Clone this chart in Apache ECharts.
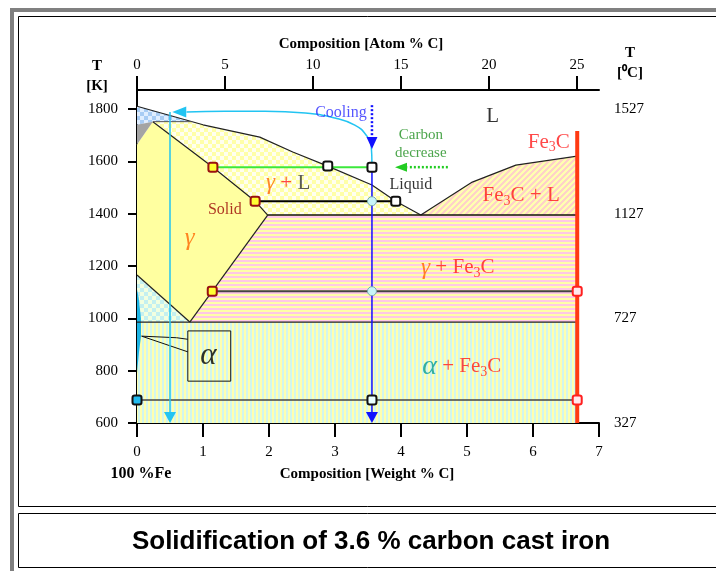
<!DOCTYPE html>
<html><head><meta charset="utf-8">
<script src="https://cdn.jsdelivr.net/npm/echarts@6/dist/echarts.min.js"></script>
<style>html,body{margin:0;padding:0;background:#fff}#c{width:716px;height:571px}</style>
</head><body><div id="c"></div>
<script>
// ---------- axes ----------
const wtRange = [0, 7];
const atomRange = [0, 26.25];
const kelvinRange = [600, 1873];
const celsiusRange = [327, 1600];
const wtTicks = [0, 1, 2, 3, 4, 5, 6, 7];
const atomTicks = [0, 5, 10, 15, 20, 25];
const kelvinTicks = [600, 800, 1000, 1200, 1400, 1600, 1800];
const celsiusTicks = [327, 527, 727, 927, 1127, 1327, 1527];
const celsiusLabels = [327, 727, 1127, 1527];

// ---------- phase boundaries (wt% C, K) ----------
const liquidus = [[0,1811],[1.0,1740],[1.86,1693],[2.36,1636],[2.89,1582],[3.56,1510],[3.92,1448],[4.3,1395]];
const solidus = [[0.24,1752],[1.15,1578],[1.79,1448],[1.98,1395]];
const fe3cLiquidus = [[4.3,1395],[5.08,1521],[5.74,1586],[6.67,1620]];
const a3Line = [[0,1166],[0.8,986]];
const acmLine = [[1.98,1395],[0.8,986]];
const peritectic = [[0.24,1752],[0.83,1752]];
const eutectic = [[1.98,1395],[6.67,1395]];
const eutectoid = [[0,986],[6.67,986]];
const cementite = [[6.67,1716],[6.67,600]];

// ---------- regions ----------
const regionDeltaL = [[0,1811],[0.83,1752],[0.24,1752],[0,1740]];
const regionDeltaGamma = [[0,1740],[0.24,1752],[0,1665]];
const regionGamma = [[0,1665],[0.24,1752],[1.15,1578],[1.79,1448],[1.98,1395],[0.8,986],[0,1166]];
const regionGammaL = [[0.24,1752],[0.83,1752]].concat(liquidus.slice(1)).concat(solidus.slice().reverse());
const regionFe3cL = fe3cLiquidus.concat([[6.67,1395]]);
const regionGammaFe3c = [[1.98,1395],[6.67,1395],[6.67,986],[0.8,986]];
const regionAlphaGamma = [[0,1166],[0.8,986],[0,986]];
const regionAlphaFe3c = [[0,986],[6.67,986],[6.67,600],[0,600]];
const regionAlpha = [[0,1110],[0.025,1080],[0.06,1000],[0.06,930],[0.03,870],[0,790]];

// ---------- solidification path ----------
const greenTie = [[1.15,1578],[3.56,1578]];
const blackTie = [[1.79,1448],[3.92,1448]];
const tie1104 = [[1.14,1104],[6.67,1104]];
const tie688 = [[0,688],[6.67,688]];
const alloyPath = [[3.56,1578],[3.56,612]];
const coolingDots = [[3.56,1815],[3.56,1680]];
const carbonArrow = [[4.71,1578],[4.1,1578]];
const cyanCurve = [[3.56,1590],[3.55,1655],[3.47,1701],[3.30,1739],[3.0,1766],[2.55,1785],[1.94,1792],[1.33,1792],[0.75,1789]];
const cyanDrop = [[0.5,1789],[0.5,612]];
const alphaBox = [[0.77,952],[1.42,952],[1.42,760],[0.77,760],[0.77,952]];
const leaderA = [[0.07,932],[0.6,926],[0.6,920],[0.77,920]];
const leaderB = [[0.07,932],[0.77,872]];

// ---------- marked points ----------
const solidPts = [[1.15,1578],[1.79,1448],[1.14,1104]];
const liquidPts = [[2.89,1582],[3.56,1578],[3.92,1448]];
const bottomPt = [[3.56,688]];
const alloyPts = [[3.56,1448],[3.56,1104]];
const fe3cPts = [[6.67,1104],[6.67,688]];
const ferritePt = [[0,688]];
const blueHead = [[3.56,621]];
const cyanHead = [[0.5,621]];
const coolingHead = [[3.56,1670]];
const cyanLeftHead = [[0.64,1789]];
const greenHead = [[4.0,1578]];

const SERIF = "'Liberation Serif','Times New Roman',serif";

function makePattern(w, h, fn) {
  const c = document.createElement('canvas'); c.width = w; c.height = h;
  const ctx = c.getContext('2d');
  for (let y = 0; y < h; y++) for (let x = 0; x < w; x++) {
    ctx.fillStyle = fn(x, y); ctx.fillRect(x, y, 1, 1);
  }
  return { image: c, repeat: 'repeat' };
}
const checker = (a, b) => makePattern(8, 8, (x, y) => ((Math.floor(x/4) + Math.floor(y/4)) % 2 ? a : b));
const patYellowChk = checker('#ffffa8', '#fffff0');
const patBlueChk = checker('#a8ccf4', '#e0eeff');
const patCyanChk = checker('#c4f0f0', '#f2ffe0');
const patHStripes = makePattern(4, 4, (x, y) => (y < 2 ? '#ffc8e6' : '#ffffa8'));
const patVStripes = makePattern(4, 4, (x, y) => (x < 2 ? '#ffffb0' : '#d2f6ee'));
const patDiag = makePattern(6, 6, (x, y) => ((x + y) % 6 < 3 ? '#ffd2c8' : '#ffffb0'));

function region(pts, fill, z) {
  return {
    type: 'custom', coordinateSystem: 'cartesian2d', data: pts, silent: true, z: z || 1,
    renderItem: function (params, api) {
      if (params.dataIndex !== 0) return null;
      return { type: 'polygon', shape: { points: pts.map(p => api.coord(p)) },
        style: { fill: fill, stroke: null } };
    }
  };
}
function line(pts, color, width, type, smooth, z) {
  return { type: 'line', data: pts, symbol: 'none', silent: true, smooth: !!smooth, z: z || 3,
    lineStyle: { color: color, width: width, type: type || 'solid' } };
}
function pts(data, symbol, size, fill, border, bw, rotate, z) {
  return { type: 'scatter', data: data, symbol: symbol, symbolSize: size, symbolRotate: rotate || 0,
    silent: true, z: z || 6, itemStyle: { color: fill, borderColor: border, borderWidth: bw, opacity: 1 } };
}
function txt(x, y, formatter, rich) {
  return { value: [x, y], label: { formatter: formatter, rich: rich } };
}
const base = (color, size, italic) => ({ color: color, fontSize: size, fontFamily: SERIF, fontStyle: italic ? 'italic' : 'normal', lineHeight: size + 4 });
const sub = (color) => ({ color: color, fontSize: 14, fontFamily: SERIF, padding: [11, 0, 0, 0] });
const RED = '#ff1a1a', ORANGE = '#ff6600', TEAL = '#009b9b';

const labels = [
  txt(5.39, 1773, '{k|L}', { k: base('#000', 21) }),
  txt(6.24, 1674, '{r|Fe}{s|3}{r|C}', { r: base(RED, 21), s: sub(RED) }),
  txt(4.30, 1668, '{g|Carbon}\n{g|decrease}', { g: { color: '#1f8f1f', fontSize: 15, fontFamily: SERIF, lineHeight: 18 } }),
  txt(3.09, 1785, '{b|Cooling}', { b: base('#2b2bff', 16) }),
  txt(4.15, 1510, '{k|Liquid}', { k: base('#000', 16) }),
  txt(2.29, 1517, '{o|γ}{r| + }{k|L}', { o: base(ORANGE, 23, true), r: base(RED, 21), k: base('#333', 21) }),
  txt(5.82, 1468, '{r|Fe}{s|3}{r|C + L}', { r: base(RED, 21), s: sub(RED) }),
  txt(1.33, 1414, '{d|Solid}', { d: base('#990000', 16) }),
  txt(0.80, 1307, '{o|γ}', { o: base(ORANGE, 25, true) }),
  txt(4.86, 1193, '{o|γ}{r| + Fe}{s|3}{r|C}', { o: base(ORANGE, 23, true), r: base(RED, 21), s: sub(RED) }),
  txt(4.92, 815, '{t|α}{r| + Fe}{s|3}{r|C}', { t: base(TEAL, 28, true), r: base(RED, 21), s: sub(RED) }),
  txt(1.08, 856, '{k|α}', { k: base('#000', 31, true) })
];

const axisFont = { fontFamily: SERIF, fontSize: 15, color: '#000', formatter: v => String(v) };
const axLine = { show: true, lineStyle: { color: '#000', width: 2 } };
const tstyle = (t, x, y, font) => ({ type: 'text', x: x, y: y, silent: true,
  style: { text: t, font: font, fill: '#000', textAlign: 'center', textVerticalAlign: 'middle', align: 'center', verticalAlign: 'middle' } });

const option = {
  animation: false,
  backgroundColor: '#ffffff',
  grid: { left: 137, top: 90, width: 462, height: 333, containLabel: false, outerBoundsMode: 'none' },
  xAxis: [
    { type: 'value', position: 'bottom', min: wtRange[0], max: wtRange[1], interval: 1,
      axisLine: axLine, splitLine: { show: false },
      axisTick: { show: true, inside: false, length: 14, customValues: wtTicks, lineStyle: { color: '#000', width: 2 } },
      axisLabel: Object.assign({ margin: 22, customValues: wtTicks }, axisFont) },
    { type: 'value', position: 'top', min: atomRange[0], max: atomRange[1],
      axisLine: axLine, splitLine: { show: false },
      axisTick: { show: true, inside: false, length: 14, customValues: atomTicks, lineStyle: { color: '#000', width: 2 } },
      axisLabel: Object.assign({ margin: 17, customValues: atomTicks }, axisFont) }
  ],
  yAxis: [
    { type: 'value', position: 'left', min: kelvinRange[0], max: kelvinRange[1],
      axisLine: axLine, splitLine: { show: false },
      axisTick: { show: true, inside: false, length: 9, customValues: kelvinTicks, lineStyle: { color: '#000', width: 2 } },
      axisLabel: Object.assign({ margin: 19, customValues: kelvinTicks }, axisFont) },
    { type: 'value', position: 'right', min: celsiusRange[0], max: celsiusRange[1],
      axisLine: axLine, splitLine: { show: false },
      axisTick: { show: true, inside: false, length: 8, customValues: celsiusTicks, lineStyle: { color: '#000', width: 2 } },
      axisLabel: Object.assign({ margin: 15, customValues: celsiusLabels }, axisFont) }
  ],
  graphic: [
    { type: 'rect', silent: true, z: -10, shape: { x: 12, y: 10, width: 760, height: 620 }, style: { fill: 'none', stroke: '#808080', lineWidth: 4 } },
    { type: 'rect', silent: true, z: -10, shape: { x: 18.5, y: 16.5, width: 760, height: 490 }, style: { fill: 'none', stroke: '#000', lineWidth: 1 } },
    { type: 'rect', silent: true, z: -10, shape: { x: 18.5, y: 513.5, width: 760, height: 54 }, style: { fill: 'none', stroke: '#000', lineWidth: 1 } },
    tstyle('Composition [Atom % C]', 361, 44, 'bold 15px ' + SERIF),
    tstyle('Composition [Weight % C]', 367, 474, 'bold 15px ' + SERIF),
    tstyle('100 %Fe', 141, 474, 'bold 16px ' + SERIF),
    tstyle('T', 97, 66, 'bold 15px ' + SERIF),
    tstyle('[K]', 97, 86, 'bold 15px ' + SERIF),
    tstyle('T', 630, 53, 'bold 15px ' + SERIF),
    tstyle('[⁰C]', 630, 73, 'bold 15px ' + SERIF),
    tstyle('Solidification of 3.6 % carbon cast iron', 371, 542, 'bold 26px "Liberation Sans", Arial, sans-serif')
  ],
  series: [
    region(regionAlphaFe3c, patVStripes),
    region(regionGammaFe3c, patHStripes),
    region(regionFe3cL, patDiag),
    region(regionAlphaGamma, patCyanChk),
    region(regionGammaL, patYellowChk),
    region(regionGamma, '#ffffa0'),
    region(regionDeltaL, patBlueChk),
    region(regionDeltaGamma, '#a4a4a4'),
    region(regionAlpha, '#1cb4e4', 2),
    line(liquidus, '#222', 1.2),
    line(solidus, '#222', 1.2),
    line(fe3cLiquidus, '#222', 1.2),
    line(a3Line, '#222', 1.2),
    line(acmLine, '#222', 1.2),
    line(peritectic, '#555', 1),
    line(eutectic, '#111', 1.6),
    line(eutectoid, '#222', 1.2),
    line(tie1104, '#444', 2),
    line(tie688, '#444', 1.6),
    line(greenTie, '#3ce83c', 2),
    line(blackTie, '#000', 2),
    line(cementite, '#ff3a12', 4, 'solid', false, 4),
    line(cyanDrop, '#22c4f2', 1.5, 'solid', false, 4),
    line(cyanCurve, '#22c4f2', 1.5, 'solid', true, 4),
    line(alloyPath, '#1010ff', 1.5, 'solid', false, 4),
    line(coolingDots, '#1010ff', 2.5, [2, 2], false, 4),
    line(carbonArrow, '#22cc22', 2.5, [2, 2], false, 4),
    line(alphaBox, '#111', 1),
    line(leaderA, '#111', 1),
    line(leaderB, '#111', 1),
    pts(blueHead, 'triangle', [12, 11], '#1010ff', '#1010ff', 0, 180, 5),
    pts(cyanHead, 'triangle', [12, 11], '#22c4f2', '#22c4f2', 0, 180, 5),
    pts(coolingHead, 'triangle', [11, 12], '#1010ff', '#1010ff', 0, 180, 5),
    pts(cyanLeftHead, 'triangle', [11, 14], '#22c4f2', '#22c4f2', 0, 90, 5),
    pts(greenHead, 'triangle', [9, 12], '#22cc22', '#22cc22', 0, 90, 5),
    pts(solidPts, 'roundRect', 9, '#ffff33', '#991111', 2),
    pts(liquidPts, 'roundRect', 9, '#ffffff', '#111', 2),
    pts(bottomPt, 'roundRect', 9, '#e8ffff', '#111', 2),
    pts(alloyPts, 'circle', 9, '#c8f4f8', '#7aa', 1),
    pts(fe3cPts, 'roundRect', 9, '#ffe8ee', '#ff2020', 2),
    pts(ferritePt, 'roundRect', 9, '#22bbee', '#111', 2),
    { type: 'scatter', data: labels, symbolSize: 0, silent: true, z: 8,
      label: { show: true, position: 'inside' } }
  ]
};
const chart = echarts.init(document.getElementById('c'), null, { renderer: 'canvas' });
chart.setOption(option);
</script></body></html>
